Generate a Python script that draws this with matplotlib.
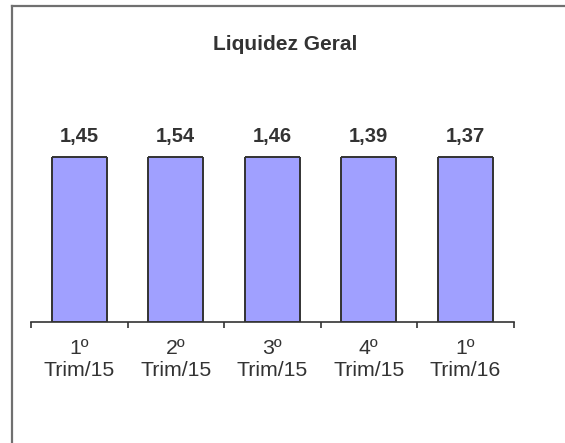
import matplotlib
matplotlib.use('Agg')
import matplotlib.pyplot as plt
from matplotlib.lines import Line2D

plt.rcParams['font.family'] = ['Liberation Sans', 'DejaVu Sans']

# ── Data ───────────────────────────────────────────────────────────
trimestres = ['1º\nTrim/15', '2º\nTrim/15', '3º\nTrim/15', '4º\nTrim/15', '1º\nTrim/16']
liquidez = [1.45, 1.54, 1.46, 1.39, 1.37]
titulo = 'Liquidez Geral'

TXT = '#333333'
BAR = '#A0A0FF'
EDGE = '#333333'
YMAX = 1.2
W = 0.57

fig = plt.figure(figsize=(5.65, 4.43), dpi=100, facecolor='white')
ax = fig.add_axes([0.0549, 0.273, 0.8540, 0.3727])

x = list(range(len(liquidez)))
# y-axis max sits below the values, so bars are clipped at the plot top
ax.bar(x, liquidez, width=W, color=BAR, edgecolor=EDGE, linewidth=1.4, zorder=3)
ax.set_xlim(-0.5, len(liquidez) - 0.5)
ax.set_ylim(0, YMAX)
# outline of the clipped bar tops
ax.hlines([YMAX] * len(x), [i - W / 2 for i in x], [i + W / 2 for i in x],
          color=EDGE, linewidth=1.4, zorder=4, clip_on=False)

for i, v in enumerate(liquidez):
    ax.annotate(f'{v:.2f}'.replace('.', ','), xy=(i, YMAX), xytext=(0, 8),
                textcoords='offset points', ha='center', va='bottom',
                fontsize=14.5, fontweight='bold', color=TXT, annotation_clip=False)

for s in ['left', 'right', 'top']:
    ax.spines[s].set_visible(False)
ax.spines['bottom'].set_color(EDGE)
ax.spines['bottom'].set_linewidth(1.2)
ax.set_yticks([])

ax.set_xticks([i - 0.5 for i in range(len(liquidez) + 1)], minor=False)
ax.set_xticklabels([])
ax.tick_params(axis='x', which='major', direction='out', length=4, width=1.2, color=EDGE)
ax.set_xticks(x, minor=True)
ax.set_xticklabels(trimestres, minor=True, fontsize=15.3, color=TXT, linespacing=1.2)
ax.tick_params(axis='x', which='minor', length=0, pad=12)

fig.text(285 / 565, 1 - 44 / 443, titulo, ha='center', va='center',
         fontsize=15, fontweight='bold', color=TXT)

# outer frame (left and top edges)
fig.add_artist(Line2D([12 / 565, 12 / 565], [0, 1 - 6 / 443], color='#707070', lw=1.6,
                      transform=fig.transFigure))
fig.add_artist(Line2D([12 / 565, 1], [1 - 6 / 443, 1 - 6 / 443], color='#707070', lw=1.6,
                      transform=fig.transFigure))

fig.savefig('out.png', dpi=100, facecolor='white')
